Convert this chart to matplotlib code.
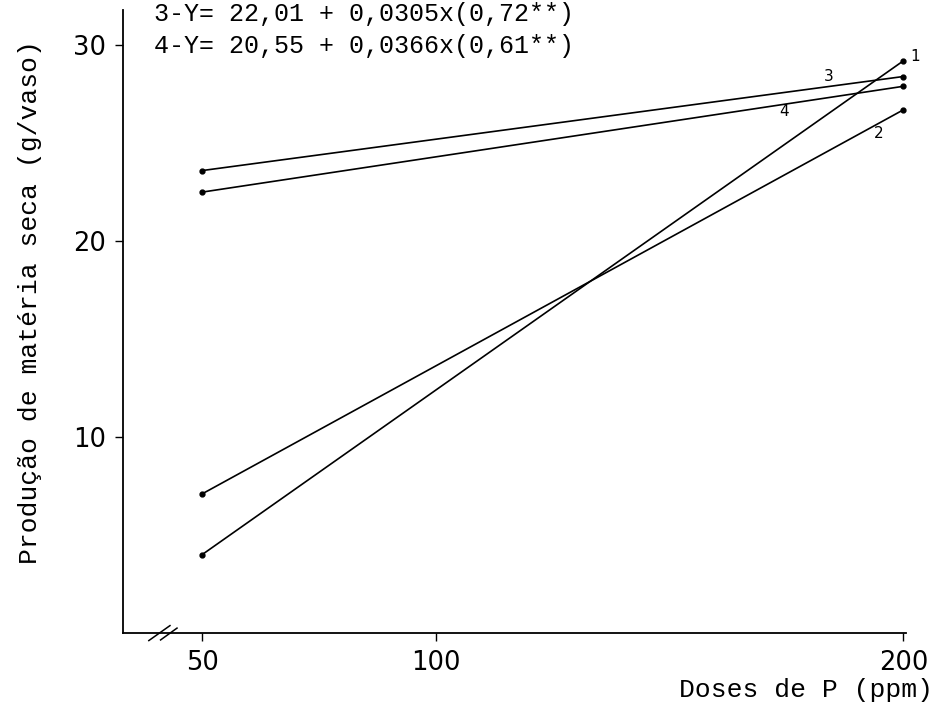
import matplotlib
matplotlib.use("Agg")
import matplotlib.pyplot as plt

doses = [50, 200]
line1 = [4.0, 29.2]
line2 = [7.1, 26.7]
line3 = [23.6, 28.4]
line4 = [22.5, 27.9]
series = [("1", line1), ("2", line2), ("3", line3), ("4", line4)]

xticks = [50, 100, 200]
yticks = [10, 20, 30]
eq3 = "3-Y= 22,01 + 0,0305x(0,72**)"
eq4 = "4-Y= 20,55 + 0,0366x(0,61**)"
xlabel = "Doses de P (ppm)"
ylabel = "Produção de matéria seca (g/vaso)"

mono = ["Liberation Mono", "DejaVu Sans Mono"]

fig = plt.figure(figsize=(9.34, 7.05), dpi=100)
ax = fig.add_axes([0.1317, 0.102, 0.838, 0.884])

for name, ys in series:
    ax.plot(doses, ys, color="black", lw=1.2, marker="o", ms=3.5)

ax.set_xlim(33.1, 200.5)
ax.set_ylim(0, 31.8)
ax.spines["top"].set_visible(False)
ax.spines["right"].set_visible(False)
for s in ("left", "bottom"):
    ax.spines[s].set_linewidth(1.3)

ax.set_xticks(xticks)
ax.set_xticklabels([str(t) for t in xticks])
ax.set_yticks(yticks)
ax.set_yticklabels([str(t) for t in yticks])
ax.tick_params(axis="both", direction="out", length=6, width=1, labelsize=18.5, pad=6)

# line labels
lab_pos = {"1": (201.5, 29.4), "3": (184, 28.4), "4": (174.5, 26.6), "2": (194.7, 25.5)}
for name, (lx, ly) in lab_pos.items():
    ax.text(lx, ly, name, fontsize=11, ha="left" if name == "1" else "center", va="center")

# axis break marks
ax.plot([0.033, 0.060], [-0.012, 0.012], transform=ax.transAxes,
        color="black", lw=1.1, clip_on=False)
ax.plot([0.048, 0.069], [-0.011, 0.008], transform=ax.transAxes,
        color="black", lw=1.1, clip_on=False)

fig.text(154 / 934, 1 - 14 / 705, eq3, family=mono, fontsize=18, ha="left", va="center")
fig.text(154 / 934, 1 - 46 / 705, eq4, family=mono, fontsize=18, ha="left", va="center")

fig.text(933 / 934, 1 - 690 / 705, xlabel, family=mono, fontsize=19, ha="right", va="center")
fig.text(30 / 934, 1 - 302 / 705, ylabel, family=mono, fontsize=19, ha="center", va="center",
         rotation=90)

fig.savefig("out.png", dpi=100)
